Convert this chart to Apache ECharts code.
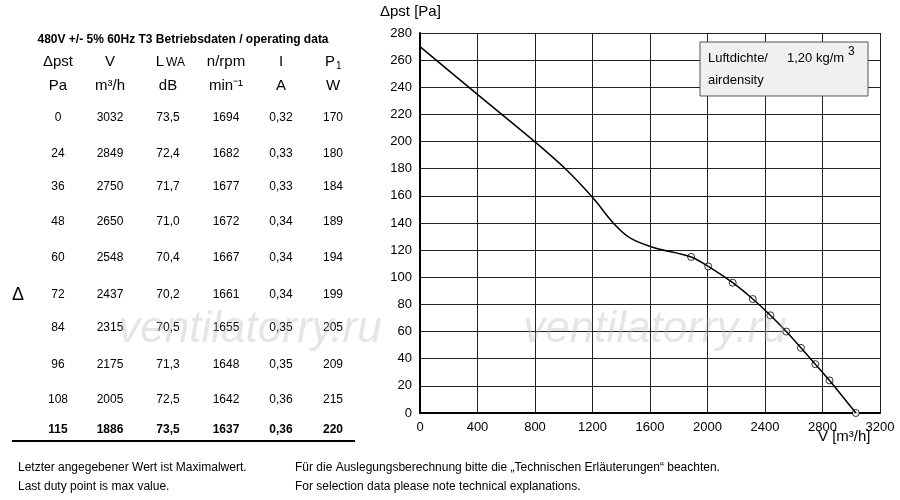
<!DOCTYPE html><html><head><meta charset="utf-8"><script src="https://cdn.jsdelivr.net/npm/echarts@6/dist/echarts.min.js"></script>
<style>body{margin:0}#c{width:900px;height:500px}</style></head><body><div id="c"></div><script>
const curve=[[0,270],[408,234],[808,199],[1020,179],[1207,158],[1345,140],[1461,129],[1623,122],[1886,115],[2005,108],[2175,96],[2315,84],[2437,72],[2548,60],[2650,48],[2750,36],[2849,24],[3032,0]];
const points=[[1886,115],[2005,108],[2175,96],[2315,84],[2437,72],[2548,60],[2650,48],[2750,36],[2849,24],[3032,0]];
const head1=['Δpst','V','L','n/rpm','I','P'];
const head2=['Pa','m³/h','dB','min⁻¹','A','W'];
const rows=[['0','3032','73,5','1694','0,32','170'],['24','2849','72,4','1682','0,33','180'],['36','2750','71,7','1677','0,33','184'],['48','2650','71,0','1672','0,34','189'],['60','2548','70,4','1667','0,34','194'],['72','2437','70,2','1661','0,34','199'],['84','2315','70,5','1655','0,35','205'],['96','2175','71,3','1648','0,35','209'],['108','2005','72,5','1642','0,36','215'],['115','1886','73,5','1637','0,36','220']];
const colX=[58,110,168,226,281,333];
const headX=[58,110,160,226,281,330];
const rowY=[118,154,187,222,258,295,328,365,400,430];
const F='Liberation Sans, Arial, sans-serif';
const g=[];
const t=(x,y,s,o)=>g.push({type:'text',x,y,z:(o&&o.z)||1,style:Object.assign({text:s,fill:'#000',font:'13px '+F,textAlign:'center',textVerticalAlign:'middle'},o||{})});
t(183,40,'480V +/- 5% 60Hz T3 Betriebsdaten / operating data',{font:'bold 12px '+F});
head1.forEach((h,i)=>t(headX[i],62,h,{font:'15px '+F}));
t(166,63,'WA',{font:'12px '+F,textAlign:'left'});
t(336,66,'1',{font:'10px '+F,textAlign:'left'});
head2.forEach((h,i)=>t(colX[i],86,h,{font:'15px '+F}));
rows.forEach((r,j)=>r.forEach((v,i)=>t(colX[i],rowY[j],v,{font:(j==rows.length-1?'bold ':'')+'12px '+F})));
g.push({type:'line',shape:{x1:12,y1:441,x2:355,y2:441},style:{stroke:'#000',lineWidth:2}});
t(12,295,'Δ',{font:'18px '+F,textAlign:'left'});
t(18,468,'Letzter angegebener Wert ist Maximalwert.',{font:'12px '+F,textAlign:'left'});
t(18,487,'Last duty point is max value.',{font:'12px '+F,textAlign:'left'});
t(295,468,'Für die Auslegungsberechnung bitte die „Technischen Erläuterungen“ beachten.',{font:'12px '+F,textAlign:'left'});
t(295,487,'For selection data please note technical explanations.',{font:'12px '+F,textAlign:'left'});
t(250,330,'ventilatorry.ru',{font:'italic 44px '+F,fill:'rgba(180,180,180,0.35)',z:20});
t(655,330,'ventilatorry.ru',{font:'italic 44px '+F,fill:'rgba(180,180,180,0.35)',z:20});
g.push({type:'rect',z:10,shape:{x:700,y:42,width:168,height:54},style:{fill:'#f0f0f0',stroke:'#555',lineWidth:1}});
t(708,58,'Luftdichte/',{font:'13px '+F,textAlign:'left',z:11});
t(708,80,'airdensity',{font:'13px '+F,textAlign:'left',z:11});
t(787,58,'1,20 kg/m',{font:'13px '+F,textAlign:'left',z:11});
t(848,52,'3',{font:'12px '+F,textAlign:'left',z:11});
t(380,12,'Δpst [Pa]',{font:'15px '+F,textAlign:'left'});
t(818,437,'V [m³/h]',{font:'15px '+F,textAlign:'left'});
const ch=echarts.init(document.getElementById('c'));
ch.setOption({animation:false,graphic:g,
grid:{left:420,right:20,top:33,bottom:87},
xAxis:{type:'value',min:0,max:3200,interval:400,axisLine:{lineStyle:{color:'#000',width:2}},axisTick:{show:false},axisLabel:{color:'#000',fontSize:13,fontFamily:F,formatter:v=>String(v)},splitLine:{lineStyle:{color:'#222',width:1}}},
yAxis:{type:'value',min:0,max:280,interval:20,axisLine:{show:true,lineStyle:{color:'#000',width:2}},axisTick:{show:false},axisLabel:{color:'#000',fontSize:13,fontFamily:F},splitLine:{lineStyle:{color:'#222',width:1}}},
series:[{type:'line',data:curve,smooth:0.35,showSymbol:false,lineStyle:{color:'#000',width:1.5}},
{type:'scatter',data:points,symbol:'circle',symbolSize:7,itemStyle:{color:'#fff',borderColor:'#000',borderWidth:1}}]});
</script></body></html>
